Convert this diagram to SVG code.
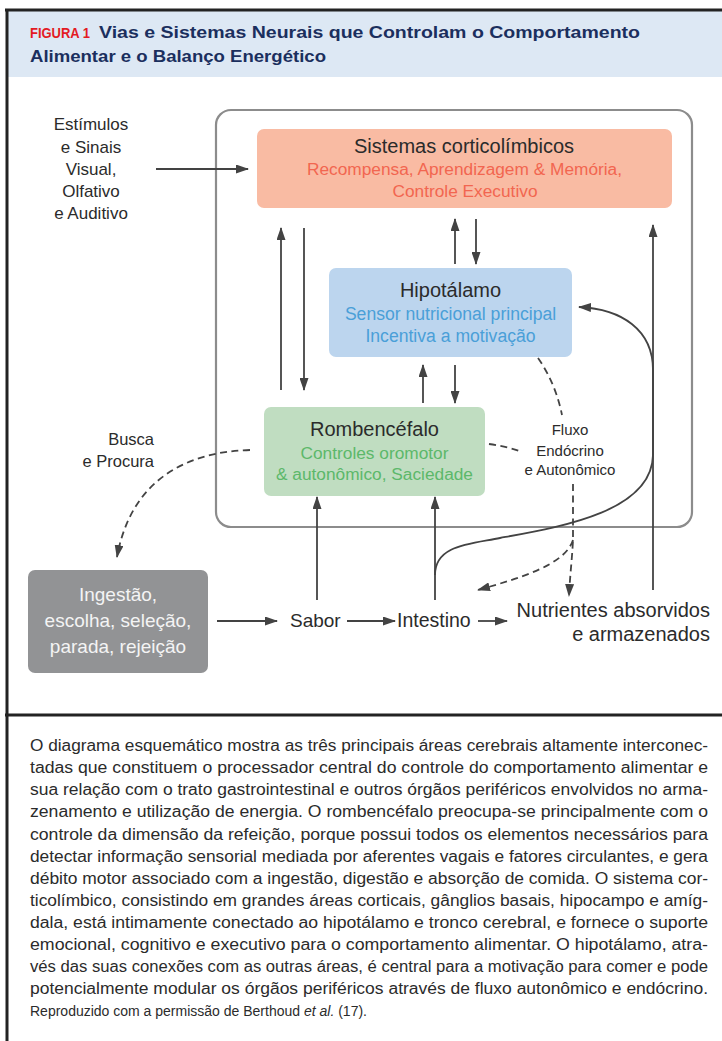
<svg xmlns="http://www.w3.org/2000/svg" width="722" height="1041" viewBox="0 0 722 1041">
<style>
  .t { font-family: "Liberation Sans", Arial, sans-serif; }
  .frame { stroke: #232323; stroke-width: 3; fill: none; }
  .ln { stroke: #434343; stroke-width: 1.8; fill: none; }
  .dash { stroke: #434343; stroke-width: 1.8; fill: none; stroke-dasharray: 7 4.5; }
  .lbl { font-family: "Liberation Sans", Arial, sans-serif; fill: #2b2b2b; }
  .cap { font-family: "Liberation Sans", Arial, sans-serif; font-size: 16px; fill: #2b2b2b; }
  .cap2 { font-family: "Liberation Sans", Arial, sans-serif; font-size: 14px; fill: #2b2b2b; }
  .hd { font-family: "Liberation Sans", Arial, sans-serif; font-weight: bold; font-size: 17px; fill: #1b2f5e; }
</style>
<defs>
  <marker id="ah" markerUnits="userSpaceOnUse" markerWidth="13" markerHeight="9" refX="12" refY="4.5" orient="auto">
    <path d="M0,0 L13,4.5 L0,9 Z" fill="#434343"/>
  </marker>
</defs>
<rect width="722" height="1041" fill="#ffffff"/>
<!-- header -->
<g id="header">
  <rect x="8" y="11" width="714" height="66" fill="#dde8f4"/>
  <text class="t" x="30" y="38" font-weight="bold" font-size="15.5" fill="#e31b23" textLength="60" lengthAdjust="spacingAndGlyphs">FIGURA 1</text>
  <text class="hd" x="99" y="38" textLength="541" lengthAdjust="spacingAndGlyphs">Vias e Sistemas Neurais que Controlam o Comportamento</text>
  <text class="hd" x="30" y="62" textLength="296" lengthAdjust="spacingAndGlyphs">Alimentar e o Balanço Energético</text>
</g>
<g id="frame">
  <line class="frame" x1="5" y1="10" x2="722" y2="10"/>
  <line class="frame" x1="7" y1="9" x2="7" y2="1041"/>
  <line class="frame" x1="5" y1="715" x2="722" y2="715"/>
</g>
<!-- brain container -->
<g id="container">
  <rect x="216" y="110" width="476" height="417" rx="15" fill="none" stroke="#8c8c8c" stroke-width="2.2"/>
</g>
<!-- connectors -->
<g id="connectors">
  <line class="ln" x1="156" y1="169" x2="248" y2="169" marker-end="url(#ah)"/>
  <line class="ln" x1="281" y1="390" x2="281" y2="228" marker-end="url(#ah)"/>
  <line class="ln" x1="304" y1="228" x2="304" y2="390" marker-end="url(#ah)"/>
  <line class="ln" x1="455" y1="264" x2="455" y2="219" marker-end="url(#ah)"/>
  <line class="ln" x1="476" y1="219" x2="476" y2="264" marker-end="url(#ah)"/>
  <line class="ln" x1="423" y1="403" x2="423" y2="365" marker-end="url(#ah)"/>
  <line class="ln" x1="455" y1="365" x2="455" y2="403" marker-end="url(#ah)"/>
  <line class="ln" x1="653" y1="590" x2="653" y2="225" marker-end="url(#ah)"/>
  <line class="ln" x1="317" y1="600" x2="317" y2="497" marker-end="url(#ah)"/>
  <line class="ln" x1="435" y1="600" x2="435" y2="497" marker-end="url(#ah)"/>
  <path class="ln" d="M 435 575 C 435 545, 470 544, 500 538 C 560 527, 652 512, 653 455 L 653 370 C 653 330, 622 309, 579 307" marker-end="url(#ah)"/>
  <line class="ln" x1="217" y1="621" x2="277" y2="621" marker-end="url(#ah)"/>
  <line class="ln" x1="347" y1="621" x2="395" y2="621" marker-end="url(#ah)"/>
  <line class="ln" x1="478" y1="621" x2="507" y2="621" marker-end="url(#ah)"/>
  <path class="dash" d="M 538 358 C 550 375, 558 395, 562 415"/>
  <path class="dash" d="M 489 444 C 502 446, 512 448, 522 452"/>
  <path class="dash" d="M 573 484 L 573 540 C 572 560, 570 575, 569 596" marker-end="url(#ah)"/>
  <path class="dash" d="M 573 540 C 565 565, 520 578, 478 590" marker-end="url(#ah)"/>
  <path class="dash" d="M 250 450 C 180 452, 130 485, 117 557" marker-end="url(#ah)"/>
</g>
<!-- nodes -->
<g id="corticolimbicos">
  <rect x="257" y="129" width="415" height="79" rx="7" fill="#f9bba3"/>
  <text class="lbl" x="464" y="153" font-size="20" text-anchor="middle">Sistemas corticolímbicos</text>
  <text class="t" x="464.5" y="175" font-size="17.3" fill="#f26650" text-anchor="middle">Recompensa, Aprendizagem &amp; Memória,</text>
  <text class="t" x="465" y="197" font-size="17.3" fill="#f26650" text-anchor="middle">Controle Executivo</text>
</g>
<g id="hipotalamo">
  <rect x="329" y="268" width="243" height="89" rx="7" fill="#bcd5ee"/>
  <text class="lbl" x="450.5" y="297" font-size="20" text-anchor="middle">Hipotálamo</text>
  <text class="t" x="450.5" y="320" font-size="17.6" fill="#4a9fd8" text-anchor="middle">Sensor nutricional principal</text>
  <text class="t" x="450.5" y="342" font-size="17.6" fill="#4a9fd8" text-anchor="middle">Incentiva a motivação</text>
</g>
<g id="rombencefalo">
  <rect x="264" y="407" width="221" height="89" rx="7" fill="#c0ddc1"/>
  <text class="lbl" x="374.5" y="436" font-size="20" text-anchor="middle">Rombencéfalo</text>
  <text class="t" x="374.5" y="459" font-size="17.3" fill="#5cb86a" text-anchor="middle">Controles oromotor</text>
  <text class="t" x="374.5" y="480" font-size="17.3" fill="#5cb86a" text-anchor="middle">&amp; autonômico, Saciedade</text>
</g>
<g id="ingestao">
  <rect x="28" y="570" width="180" height="103" rx="7" fill="#929395"/>
  <text class="t" x="118" y="601" font-size="19" fill="#f4f4f4" text-anchor="middle">Ingestão,</text>
  <text class="t" x="118" y="627" font-size="19" fill="#f4f4f4" text-anchor="middle">escolha, seleção,</text>
  <text class="t" x="118" y="653" font-size="19" fill="#f4f4f4" text-anchor="middle">parada, rejeição</text>
</g>
<g id="estimulos">
  <text class="lbl" x="91" y="130" font-size="17" text-anchor="middle">Estímulos</text>
  <text class="lbl" x="91" y="153" font-size="17" text-anchor="middle">e Sinais</text>
  <text class="lbl" x="91" y="175" font-size="17" text-anchor="middle">Visual,</text>
  <text class="lbl" x="91" y="197" font-size="17" text-anchor="middle">Olfativo</text>
  <text class="lbl" x="91" y="219" font-size="17" text-anchor="middle">e Auditivo</text>
</g>
<g id="busca">
  <text class="lbl" x="154" y="445" font-size="16.5" text-anchor="end">Busca</text>
  <text class="lbl" x="154" y="467" font-size="16.5" text-anchor="end">e Procura</text>
</g>
<g id="fluxo">
  <text class="lbl" x="570" y="435" font-size="15" text-anchor="middle">Fluxo</text>
  <text class="lbl" x="570" y="456" font-size="15" text-anchor="middle">Endócrino</text>
  <text class="lbl" x="570" y="475" font-size="15" text-anchor="middle">e Autonômico</text>
</g>
<g id="sabor">
  <text class="lbl" x="290" y="627" font-size="19">Sabor</text>
</g>
<g id="intestino">
  <text class="lbl" x="397" y="627" font-size="19.5">Intestino</text>
</g>
<g id="nutrientes">
  <text class="lbl" x="710" y="617" font-size="20" text-anchor="end">Nutrientes absorvidos</text>
  <text class="lbl" x="710" y="641" font-size="20" text-anchor="end">e armazenados</text>
</g>
<!-- caption -->
<g id="caption">
  <text class="cap" x="30" y="751" textLength="678" lengthAdjust="spacingAndGlyphs">O diagrama esquemático mostra as três principais áreas cerebrais altamente interconec-</text>
  <text class="cap" x="30" y="773" textLength="678" lengthAdjust="spacingAndGlyphs">tadas que constituem o processador central do controle do comportamento alimentar e</text>
  <text class="cap" x="30" y="795" textLength="678" lengthAdjust="spacingAndGlyphs">sua relação com o trato gastrointestinal e outros órgãos periféricos envolvidos no arma-</text>
  <text class="cap" x="30" y="817" textLength="678" lengthAdjust="spacingAndGlyphs">zenamento e utilização de energia. O rombencéfalo preocupa-se principalmente com o</text>
  <text class="cap" x="30" y="840" textLength="678" lengthAdjust="spacingAndGlyphs">controle da dimensão da refeição, porque possui todos os elementos necessários para</text>
  <text class="cap" x="30" y="862" textLength="678" lengthAdjust="spacingAndGlyphs">detectar informação sensorial mediada por aferentes vagais e fatores circulantes, e gera</text>
  <text class="cap" x="30" y="884" textLength="678" lengthAdjust="spacingAndGlyphs">débito motor associado com a ingestão, digestão e absorção de comida. O sistema cor-</text>
  <text class="cap" x="30" y="906" textLength="678" lengthAdjust="spacingAndGlyphs">ticolímbico, consistindo em grandes áreas corticais, gânglios basais, hipocampo e amíg-</text>
  <text class="cap" x="30" y="928" textLength="678" lengthAdjust="spacingAndGlyphs">dala, está intimamente conectado ao hipotálamo e tronco cerebral, e fornece o suporte</text>
  <text class="cap" x="30" y="950" textLength="678" lengthAdjust="spacingAndGlyphs">emocional, cognitivo e executivo para o comportamento alimentar. O hipotálamo, atra-</text>
  <text class="cap" x="30" y="972" textLength="678" lengthAdjust="spacingAndGlyphs">vés das suas conexões com as outras áreas, é central para a motivação para comer e pode</text>
  <text class="cap" x="30" y="994" textLength="678" lengthAdjust="spacingAndGlyphs">potencialmente modular os órgãos periféricos através de fluxo autonômico e endócrino.</text>
  <text class="cap2" x="30" y="1016">Reproduzido com a permissão de Berthoud <tspan font-style="italic">et al.</tspan> (17).</text>
</g>
</svg>
